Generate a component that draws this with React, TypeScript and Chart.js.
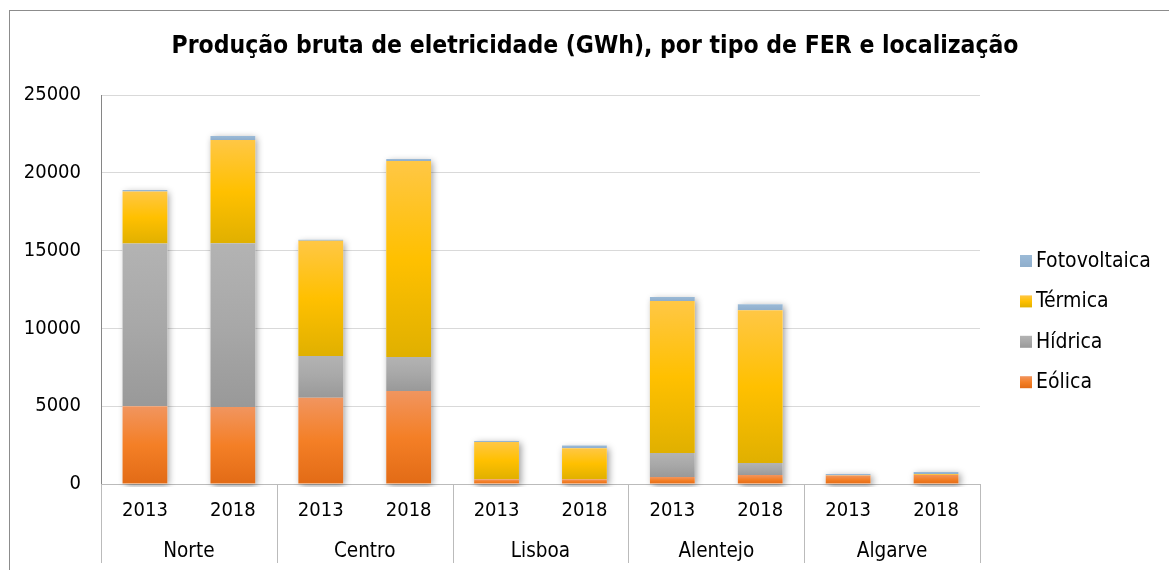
import { useEffect, useRef } from 'react';
import { Chart, registerables } from 'chart.js';

Chart.register(...registerables);

const TITLE = 'Produção bruta de eletricidade (GWh), por tipo de FER e localização';
const REGIONS = ['Norte', 'Centro', 'Lisboa', 'Alentejo', 'Algarve'];
const YEARS = ['2013', '2018', '2013', '2018', '2013', '2018', '2013', '2018', '2013', '2018'];
const SERIES_NAMES = ['Eólica', 'Hídrica', 'Térmica', 'Fotovoltaica'];
const EOLICA = [5000, 4950, 5550, 5980, 300, 300, 450, 580, 540, 600];
const HIDRICA = [10450, 10520, 2680, 2180, 0, 0, 1540, 770, 0, 0];
const TERMICA = [3350, 6640, 7400, 12600, 2400, 2000, 9770, 9810, 20, 50];
const FOTOVOLTAICA = [100, 250, 70, 130, 60, 170, 260, 400, 80, 120];
const Y_TICKS = [0, 5000, 10000, 15000, 20000, 25000];

const FONT = '"DejaVu Sans Condensed", "DejaVu Sans", sans-serif';

const GRADIENTS: string[][] = [
  ['#F1955F', '#F47F26', '#E26B16'],
  ['#B3B3B3', '#A8A8A8', '#999999'],
  ['#FFC745', '#FFC000', '#E0B000'],
  ['#9BBAD6', '#95B4D2', '#8FAECB'],
];

function makeGrad(ctx: CanvasRenderingContext2D, stops: string[], top: number, bottom: number) {
  const g = ctx.createLinearGradient(0, top, 0, bottom);
  g.addColorStop(0, stops[0]);
  g.addColorStop(0.5, stops[1]);
  g.addColorStop(1, stops[2]);
  return g;
}

function segFill(c: any) {
  const stops = GRADIENTS[c.datasetIndex];
  if (c.type !== 'data') return stops[1];
  const chart = c.chart;
  const y = chart.scales && chart.scales.y;
  if (!y) return stops[1];
  const i = c.dataIndex;
  let base = 0;
  for (let k = 0; k < c.datasetIndex; k++) base += Number(chart.data.datasets[k].data[i]) || 0;
  const top = base + (Number(chart.data.datasets[c.datasetIndex].data[i]) || 0);
  const y0 = y.getPixelForValue(base);
  const y1 = y.getPixelForValue(top);
  if (!isFinite(y0) || !isFinite(y1) || y0 - y1 < 1) return stops[1];
  return makeGrad(chart.ctx, stops, y1, y0);
}

const shadowPlugin = {
  id: 'barShadow',
  beforeDatasetsDraw(chart: any) {
    const { ctx, chartArea } = chart;
    const y = chart.scales.y;
    const meta0 = chart.getDatasetMeta(0);
    ctx.save();
    ctx.beginPath();
    ctx.rect(chartArea.left + 1, chartArea.top - 5, chartArea.width, chartArea.height + 8);
    ctx.clip();
    ctx.shadowColor = 'rgba(0,0,0,0.4)';
    ctx.shadowBlur = 7;
    ctx.shadowOffsetX = 2;
    ctx.shadowOffsetY = 2;
    ctx.fillStyle = '#ffffff';
    meta0.data.forEach((bar: any, i: number) => {
      let total = 0;
      chart.data.datasets.forEach((ds: any) => (total += Number(ds.data[i]) || 0));
      const top = y.getPixelForValue(total);
      const bottom = y.getPixelForValue(0);
      const { x, width } = bar.getProps(['x', 'width'], true);
      ctx.fillRect(x - width / 2, top, width, bottom - top);
    });
    ctx.restore();
  },
};

const decorPlugin = {
  id: 'decor',
  afterDraw(chart: any) {
    const { ctx, chartArea } = chart;
    const x = chart.scales.x;
    ctx.save();
    // title
    ctx.fillStyle = '#000000';
    ctx.font = `bold 24.5px ${FONT}`;
    ctx.textAlign = 'center';
    ctx.textBaseline = 'middle';
    ctx.fillText(TITLE, 586, 37);
    // region separators
    ctx.strokeStyle = '#BBBBBB';
    ctx.lineWidth = 1;
    const n = YEARS.length;
    const step = (chartArea.right - chartArea.left) / n;
    for (let b = 0; b <= n; b += 2) {
      const px = Math.round(x.getPixelForValue(Math.min(b, n - 1)) + (b === n ? step / 2 : -step / 2)) + 0.5;
      ctx.beginPath();
      ctx.moveTo(px, chartArea.bottom);
      ctx.lineTo(px, 553);
      ctx.stroke();
    }
    // legend
    const order = [3, 2, 1, 0];
    ctx.font = `21px ${FONT}`;
    ctx.textAlign = 'left';
    ctx.textBaseline = 'alphabetic';
    order.forEach((d, k) => {
      const base = 257 + 40.4 * k;
      const label = chart.data.datasets[d].label;
      ctx.fillStyle = makeGrad(ctx, GRADIENTS[d], base - 12, base);
      ctx.fillRect(1011, base - 12, 12, 12);
      ctx.fillStyle = '#000000';
      ctx.fillText(label, 1027, base);
    });
    ctx.restore();
  },
};

export default function App() {
  const ref = useRef<HTMLCanvasElement | null>(null);
  useEffect(() => {
    if (!ref.current) return;
    Chart.defaults.font.family = FONT;
    const values = [EOLICA, HIDRICA, TERMICA, FOTOVOLTAICA];
    const chart = new Chart(ref.current, {
      type: 'bar',
      data: {
        labels: YEARS,
        datasets: values.map((v, d) => ({
          label: SERIES_NAMES[d],
          data: v,
          backgroundColor: segFill,
          borderWidth: 0,
          categoryPercentage: 1,
          barPercentage: 0.51,
          xAxisID: 'x',
          yAxisID: 'y',
        })),
      },
      options: {
        responsive: false,
        animation: false,
        devicePixelRatio: 1,
        layout: { padding: { top: 85, right: 201, left: 0, bottom: 0 } },
        plugins: {
          legend: { display: false },
          title: { display: false },
          tooltip: { enabled: false },
        },
        scales: {
          x: {
            type: 'category',
            position: 'bottom',
            stacked: true,
            grid: { display: false, drawTicks: false },
            border: { display: true, color: '#BBBBBB', width: 1 },
            ticks: { color: '#000000', font: { size: 20 }, padding: 15, maxRotation: 0, autoSkip: false },
            afterFit: (s: any) => { s.height = 40; },
          },
          x2: {
            type: 'category',
            position: 'bottom',
            labels: REGIONS,
            offset: true,
            grid: { display: false, drawTicks: false },
            border: { display: false },
            ticks: { color: '#000000', font: { size: 20.5 }, padding: 15, maxRotation: 0, autoSkip: false },
            afterFit: (s: any) => { s.height = 46; },
          },
          y: {
            stacked: true,
            min: 0,
            max: 25000,
            afterBuildTicks: (s: any) => { s.ticks = Y_TICKS.map((v) => ({ value: v })); },
            grid: { color: '#D9D9D9', drawTicks: false, lineWidth: 1 },
            border: { display: true, color: '#868686', width: 1 },
            ticks: { color: '#000000', font: { size: 20 }, padding: 20, callback: (v: any) => String(v) },
            afterFit: (s: any) => { s.width = 92; },
          },
        },
      },
      plugins: [shadowPlugin, decorPlugin],
    });
    return () => chart.destroy();
  }, []);
  return (
    <div style={{ position: 'fixed', left: 0, top: 0, width: 1169, height: 570, overflow: 'hidden', background: '#ffffff' }}>
      <canvas ref={ref} width={1172} height={560} style={{ position: 'absolute', left: 9, top: 10, width: 1172, height: 560 }} />
      <div style={{ position: 'absolute', left: 9, top: 10, width: 1300, height: 700, borderTop: '1px solid #8C8C8C', borderLeft: '1px solid #8C8C8C', pointerEvents: 'none' }} />
    </div>
  );
}
